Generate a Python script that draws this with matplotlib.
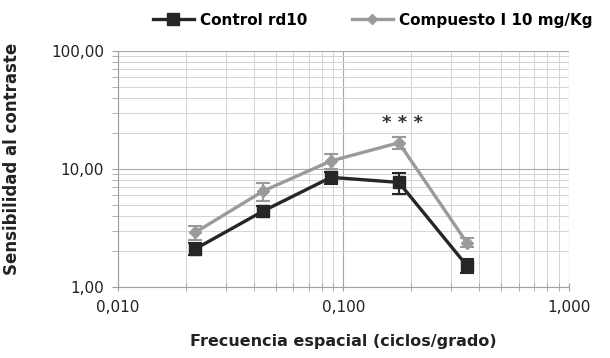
import matplotlib
matplotlib.use("Agg")
import matplotlib.pyplot as plt
from matplotlib.lines import Line2D
from matplotlib.ticker import FixedLocator, LogLocator, NullFormatter, FuncFormatter

# spatial frequency (cycles/degree)
freq = [0.022, 0.044, 0.088, 0.176, 0.352]

control = [2.1, 4.4, 8.5, 7.7, 1.52]
control_err = [0.25, 0.5, 1.0, 1.6, 0.2]

compuesto = [2.9, 6.5, 11.7, 16.7, 2.38]
compuesto_err = [0.4, 1.1, 1.6, 1.9, 0.2]

series_names = ["Control rd10", "Compuesto I 10 mg/Kg"]

dark = '#262626'
grey = '#9a9a9a'

plt.rcParams['font.family'] = ['DejaVu Sans']

fig = plt.figure(figsize=(6.10, 3.58), dpi=100)
ax = fig.add_axes([0.1934, 0.1983, 0.7394, 0.6592])

ax.errorbar(freq, compuesto, yerr=compuesto_err, color=grey, lw=2.4,
            marker='D', ms=6, capsize=5, capthick=1.5, elinewidth=1.5, zorder=3)
ax.errorbar(freq, control, yerr=control_err, color=dark, lw=2.4,
            marker='s', ms=9, capsize=5, capthick=1.5, elinewidth=1.5, zorder=4)

ax.set_xscale('log')
ax.set_yscale('log')
ax.set_xlim(0.01, 1.0)
ax.set_ylim(1.0, 100.0)

ax.xaxis.set_major_locator(FixedLocator([0.01, 0.1, 1.0]))
ax.yaxis.set_major_locator(FixedLocator([1.0, 10.0, 100.0]))
ax.xaxis.set_minor_locator(LogLocator(base=10, subs=range(2, 10)))
ax.yaxis.set_minor_locator(LogLocator(base=10, subs=range(2, 10)))
ax.xaxis.set_minor_formatter(NullFormatter())
ax.yaxis.set_minor_formatter(NullFormatter())
ax.xaxis.set_major_formatter(FuncFormatter(lambda v, p: f"{v:.3f}".replace('.', ',')))
ax.yaxis.set_major_formatter(FuncFormatter(lambda v, p: f"{v:.2f}".replace('.', ',')))

ax.grid(True, which='major', color='#a8a8a8', lw=0.8)
ax.grid(True, which='minor', color='#d4d4d4', lw=0.7)
for s in ['top', 'right']:
    ax.spines[s].set_visible(False)
for s in ['left', 'bottom']:
    ax.spines[s].set_color('#a0a0a0')

ax.tick_params(which='both', colors='#a0a0a0', labelcolor='#222222', labelsize=11)
ax.tick_params(axis='x', which='both', direction='inout', length=6, pad=6)
ax.tick_params(axis='y', which='both', direction='out', length=4, pad=6)

ax.set_xlabel("Frecuencia espacial (ciclos/grado)", fontsize=11.5, fontweight='bold',
              color='#222222', labelpad=14)
ax.set_ylabel("Sensibilidad al contraste", fontsize=12, fontweight='bold',
              color='#222222')
# label sits a little above the axes centre in the original
ax.yaxis.set_label_coords(-0.215, 0.545)

ax.text(0.183, 20.5, "* * *", ha='center', va='bottom', fontsize=13,
        fontweight='bold', color='#333333')

handles = [Line2D([], [], color=dark, lw=2.4, marker='s', ms=8),
           Line2D([], [], color=grey, lw=2.4, marker='D', ms=5)]
fig.legend(handles, series_names, loc='center left', bbox_to_anchor=(0.25, 0.944),
           ncol=2, frameon=False, prop={'weight': 'bold', 'size': 11},
           borderpad=0, borderaxespad=0,
           handlelength=2.7, columnspacing=2.9, handletextpad=0.4)

fig.savefig("out.png", dpi=100, facecolor='white')
